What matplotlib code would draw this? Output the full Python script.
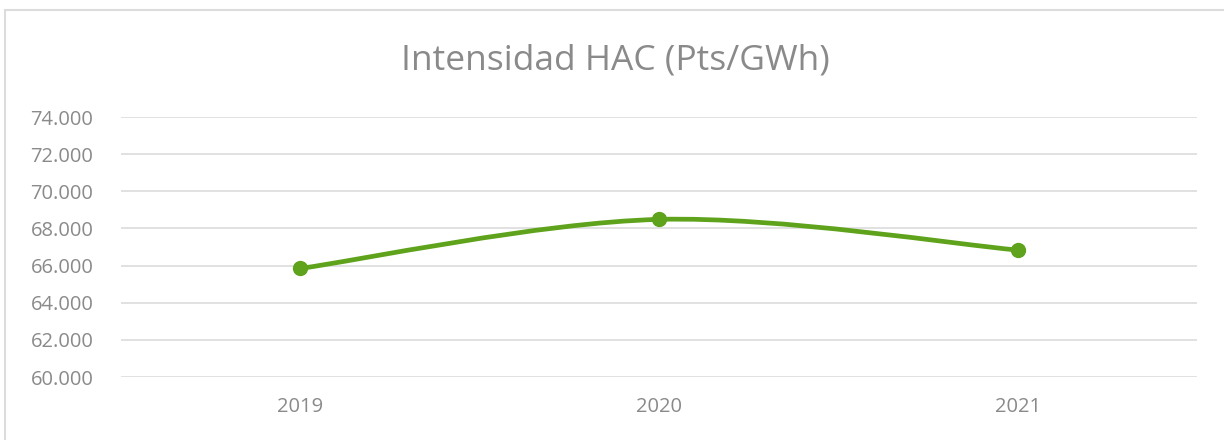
import matplotlib
matplotlib.use("Agg")
import matplotlib.pyplot as plt
from matplotlib.path import Path
from matplotlib.patches import PathPatch, Rectangle
import numpy as np

years = ["2019", "2020", "2021"]
intensity = [65850, 68490, 66840]
y_ticks = [60000, 62000, 64000, 66000, 68000, 70000, 72000, 74000]

green = "#5ea31b"
grey_txt = "#8a8a8a"
grid_col = "#dedede"

plt.rcParams['font.family'] = ['Open Sans', 'DejaVu Sans']

fig = plt.figure(figsize=(12.24, 4.4), dpi=100)
ax = fig.add_axes([0.0989, 0.143, 0.879, 0.591])

# chart border like excel
fig.patches.append(Rectangle((5/1224, -0.1), 1.2, 1 - 10/440 + 0.1, transform=fig.transFigure,
                             fill=False, edgecolor="#dcdcdc", lw=1.5))

x = np.arange(len(years))
y = np.array(intensity, dtype=float)

# excel style smoothed line (catmull-rom -> bezier)
verts = [(x[0], y[0])]
codes = [Path.MOVETO]
n = len(x)
for i in range(n - 1):
    p0 = np.array([x[max(i-1, 0)], y[max(i-1, 0)]])
    p1 = np.array([x[i], y[i]])
    p2 = np.array([x[i+1], y[i+1]])
    p3 = np.array([x[min(i+2, n-1)], y[min(i+2, n-1)]])
    c1 = p1 + (p2 - p0) / 6
    c2 = p2 - (p3 - p1) / 6
    verts += [tuple(c1), tuple(c2), tuple(p2)]
    codes += [Path.CURVE4] * 3
ax.add_patch(PathPatch(Path(verts, codes), fill=False, edgecolor=green, lw=3.4,
                       capstyle="round", zorder=3))
ax.plot(x, y, linestyle="none", marker="o", ms=10, color=green, zorder=4)

ax.set_xlim(-0.5, n - 0.5)
ax.set_ylim(60000, 74000)
ax.set_yticks(y_ticks)
ax.set_yticklabels([f"{v:,.0f}".replace(",", ".") for v in y_ticks])
ax.set_xticks(x)
ax.set_xticklabels(years)
ax.yaxis.grid(True, color=grid_col, lw=1.3)
ax.set_axisbelow(True)
for s in ax.spines.values():
    s.set_visible(False)
ax.tick_params(axis="both", length=0, labelsize=14.5, colors=grey_txt)
ax.tick_params(axis="y", pad=20)
ax.tick_params(axis="x", pad=14)

fig.text(0.503, 0.862, "Intensidad HAC (Pts/GWh)", ha="center", va="center",
         fontsize=25.5, color=grey_txt)

fig.savefig("out.png", dpi=100, facecolor="white")
